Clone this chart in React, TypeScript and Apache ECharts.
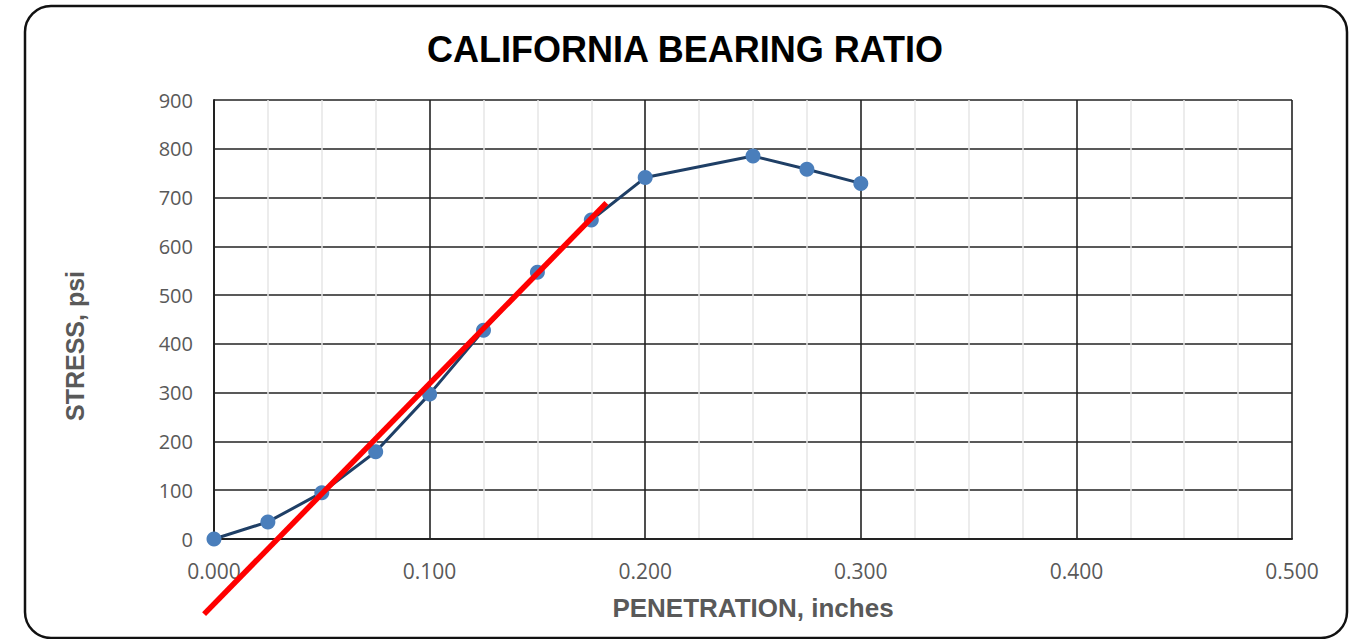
import React, { useEffect, useRef } from "react";
import * as echarts from "echarts";

const penetration = [0, 0.025, 0.05, 0.075, 0.1, 0.125, 0.15, 0.175, 0.2, 0.25, 0.275, 0.3];
const stress = [0, 35, 95, 179, 297, 428, 547, 654, 741, 785, 758, 729];
const fitX = [-0.0046, 0.182];
const fitY = [-154, 689];

const TITLE = "CALIFORNIA BEARING RATIO";
const X_NAME = "PENETRATION, inches";
const Y_NAME = "STRESS, psi";

export default function App() {
  const ref = useRef<HTMLDivElement>(null);
  useEffect(() => {
    if (!ref.current) return;
    const chart = echarts.init(ref.current, undefined, { renderer: "svg" });
    const gray = "#595959";
    chart.setOption({
      animation: false,
      backgroundColor: "#ffffff",
      title: {
        text: TITLE,
        left: 680,
        top: 26,
        textAlign: "center",
        textStyle: { fontFamily: "Liberation Sans", fontWeight: "bold", fontSize: 36, color: "#000" },
      },
      grid: { left: 214, right: 66, top: 100, height: 439 },
      xAxis: {
        type: "value",
        min: 0,
        max: 0.5,
        interval: 0.1,
        name: X_NAME,
        nameLocation: "middle",
        nameGap: 56,
        nameTextStyle: { fontFamily: "Liberation Sans", fontWeight: "bold", fontSize: 26, color: gray },
        axisLine: { show: true, lineStyle: { color: "#222", width: 2 } },
        axisTick: { show: false },
        axisLabel: {
          margin: 21,
          fontFamily: "Open Sans",
          fontSize: 21,
          color: gray,
          formatter: (v: number) => v.toFixed(3),
        },
        splitLine: { show: true, lineStyle: { color: "#222", width: 1.6 } },
        minorTick: { show: false, splitNumber: 4 },
        minorSplitLine: { show: true, lineStyle: { color: "#e6e6e6", width: 1.5 } },
      },
      yAxis: {
        type: "value",
        min: 0,
        max: 900,
        interval: 100,
        axisLine: { show: true, lineStyle: { color: "#222", width: 2 } },
        axisTick: { show: false },
        axisLabel: { margin: 21, fontFamily: "Open Sans", fontSize: 20, color: gray },
        splitLine: { show: true, lineStyle: { color: "#222", width: 1.6 } },
      },
      graphic: [
        {
          id: "frame",
          type: "rect",
          shape: { x: 25, y: 6, width: 1322, height: 632, r: 26 },
          style: { fill: "none", stroke: "#111", lineWidth: 2.5 },
          silent: true,
        },
        {
          id: "yname",
          type: "text",
          x: 75,
          y: 346,
          rotation: Math.PI / 2,
          style: {
            text: Y_NAME,
            fontFamily: "Liberation Sans",
            fontWeight: "bold",
            fontSize: 25,
            fill: gray,
            align: "center",
            verticalAlign: "middle",
          },
        },
      ],
      series: [
        {
          type: "line",
          data: penetration.map((x, i) => [x, stress[i]]),
          symbol: "circle",
          symbolSize: 15,
          lineStyle: { color: "#1f3f66", width: 3 },
          itemStyle: { color: "#4a7ebb" },
          z: 3,
        },
      ],
    });
    const p1 = chart.convertToPixel({ gridIndex: 0 }, [fitX[0], fitY[0]]) as number[];
    const p2 = chart.convertToPixel({ gridIndex: 0 }, [fitX[1], fitY[1]]) as number[];
    chart.setOption({
      graphic: [
        {
          id: "fit",
          type: "line",
          z: 100,
          shape: { x1: p1[0], y1: p1[1], x2: p2[0], y2: p2[1] },
          style: { stroke: "#ff0000", lineWidth: 5.5 },
          silent: true,
        },
      ],
    });
    return () => chart.dispose();
  }, []);
  return (
    <div
      ref={ref}
      style={{ position: "fixed", left: 0, top: 0, width: 1358, height: 639, background: "#fff" }}
    />
  );
}
